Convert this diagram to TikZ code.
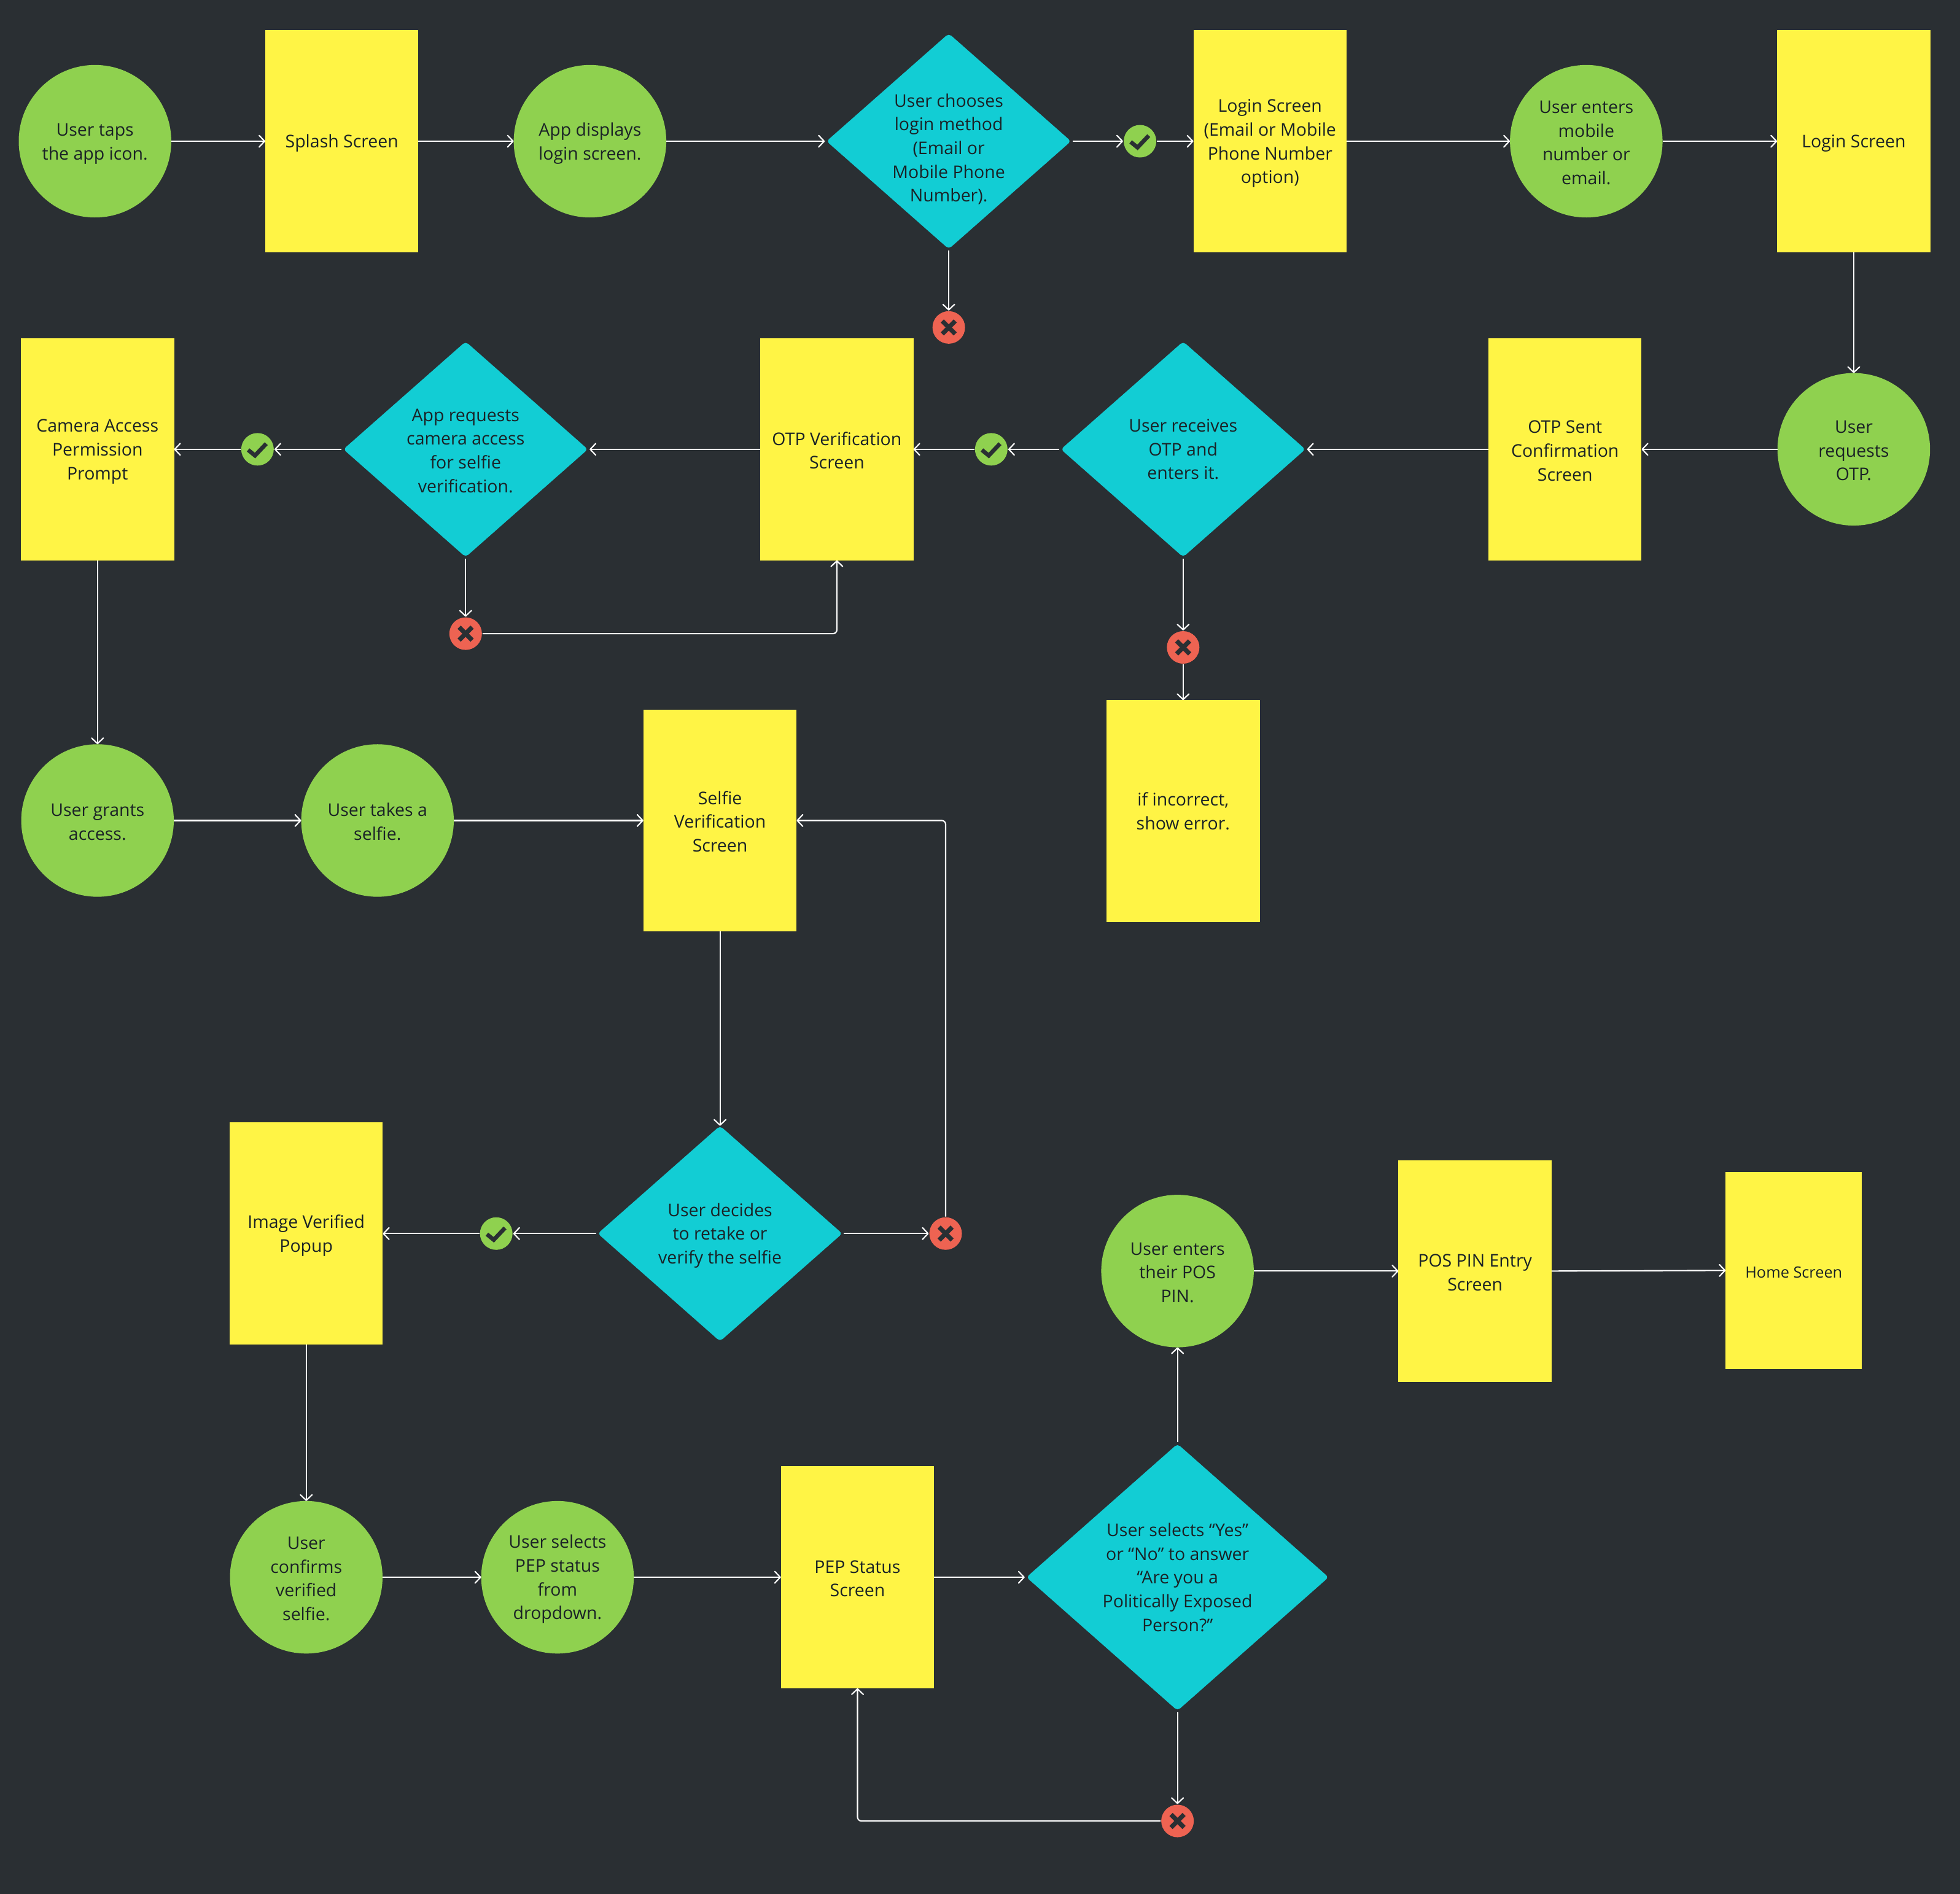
\documentclass[tikz,border=0pt]{standalone}
\usepackage{fontspec}
\setmainfont{Open Sans}
\usetikzlibrary{shapes.geometric,arrows.meta}
\definecolor{bgc}{HTML}{2A2F33}
\definecolor{yel}{HTML}{FFF445}
\definecolor{tealc}{HTML}{12CDD4}
\definecolor{grn}{HTML}{8FD14F}
\definecolor{redc}{HTML}{EE6352}
\definecolor{txt}{HTML}{1A2226}
\newcommand{\stA}{\rule{0pt}{7.2pt}}
\newcommand{\stB}{\rule{0pt}{8pt}}
\tikzset{
  base/.style={inner sep=0pt,outer sep=0pt,align=center,text=txt,font=\fontsize{8.1}{11}\selectfont},
  act/.style={base,circle,fill=grn,minimum size=2.484cm},
  screen/.style={base,rectangle,fill=yel,minimum width=2.494cm,minimum height=3.615cm},
  homescreen/.style={base,rectangle,fill=yel,minimum width=2.219cm,minimum height=3.216cm,font=\fontsize{7.2}{9}\selectfont},
  choice/.style={base,diamond,aspect=1.134,fill=tealc,inner sep=-8pt,minimum width=3.98cm,minimum height=3.51cm,rounded corners=1.6pt},
  bigchoice/.style={base,diamond,aspect=1.132,fill=tealc,inner sep=-4pt,minimum width=4.92cm,minimum height=4.345cm,rounded corners=1.6pt},
  okicon/.style={circle,inner sep=0pt,outer sep=0.3pt,fill=grn,minimum size=0.53cm,
    path picture={\draw[bgc,line width=1.9pt,shift={(path picture bounding box.center)}] (-7.5,0.5)--(-2,5)--(7,-4.5);}},
  noicon/.style={circle,inner sep=0pt,outer sep=0.3pt,fill=redc,minimum size=0.53cm,
    path picture={\draw[bgc,line width=2.1pt,shift={(path picture bounding box.center)}] (-5.2,-5.2)--(5.2,5.2) (-5.2,5.2)--(5.2,-5.2);}},
  arr/.style={draw=white,line width=0.6pt,-{Straight Barb[length=0.9mm,width=1.9mm,line width=0.6pt,round]}},
  fromd/.style={shorten <=0.8pt},
  tod/.style={shorten >=0.8pt},
  loopback/.style={rounded corners=1.8pt},
}
\begin{document}
\begin{tikzpicture}[x=0.020357cm,y=-0.020357cm]
\fill[bgc] (0,0) rectangle (1568,1515.4);
\useasboundingbox (0,0) rectangle (1568,1515.4);
% row 1
\node[act] (c1) at (76,113) {\stB User taps\\the app icon.};
\node[screen] (r1) at (273.5,113) {\stB Splash Screen};
\node[act] (c2) at (472,113) {\stB App displays\\login screen.};
\node[choice] (d1) at (759,113) {\rule{0pt}{13.4pt}User chooses\\login method\\(Email or\\Mobile Phone\\Number).};
\node[okicon] (ok1) at (912,113) {};
\node[noicon] (x1) at (759,262) {};
\node[screen] (r2) at (1016,113) {\stB Login Screen\\(Email or Mobile\\Phone Number\\option)};
\node[act] (c3) at (1269,113) {\stA User enters\\mobile\\number or\\email.};
\node[screen] (r3) at (1483,113) {\stB Login Screen};
% row 2
\node[act] (c4) at (1483,359.5) {\stA User\\requests\\OTP.};
\node[screen] (r4) at (1252,359.5) {\stA OTP Sent\\Confirmation\\Screen};
\node[choice] (d2) at (946.5,359.5) {User receives\\OTP and\\enters it.};
\node[okicon] (ok2) at (793,359.5) {};
\node[screen] (r5) at (669.5,359.5) {\stA OTP Verification\\Screen};
\node[choice] (d3) at (372.5,359.5) {\stA App requests\\camera access\\for selfie\\verification.};
\node[okicon] (ok3) at (206,359.5) {};
\node[screen] (r6) at (78,359.5) {\stB Camera Access\\Permission\\Prompt};
\node[noicon] (x2) at (372.5,507) {};
\node[noicon] (x3) at (946.5,518) {};
\node[screen] (r8) at (946.5,649) {if incorrect,\\show error.};
% row 3
\node[act] (c5) at (78,656.5) {\stA User grants\\access.};
\node[act] (c6) at (302,656.5) {\stA User takes a\\selfie.};
\node[screen] (r7) at (576,656.5) {\stA Selfie\\Verification\\Screen};
% row 4
\node[choice] (d4) at (576,987) {\stB User decides\\to retake or\\verify the selfie};
\node[noicon] (x4) at (756.5,987) {};
\node[okicon] (ok4) at (397,987) {};
\node[screen] (r9) at (245,987) {\stB Image Verified\\Popup};
\node[act] (c7) at (942,1017) {\stA User enters\\their POS\\PIN.};
\node[screen] (r10) at (1180,1017) {\stA POS PIN Entry\\Screen};
\node[homescreen] (r11) at (1435,1016.5) {\stA Home Screen};
% row 5
\node[act] (c8) at (245,1262) {\stA User\\confirms\\verified\\selfie.};
\node[act] (c9) at (446,1262) {\stB User selects\\PEP status\\from\\dropdown.};
\node[screen] (r12) at (686,1262) {\stA PEP Status\\Screen};
\node[bigchoice] (d5) at (942,1262) {User selects “Yes”\\or “No” to answer\\“Are you a\\Politically Exposed\\Person?”};
\node[noicon] (x5) at (942,1457) {};
% connectors
\draw[arr] (c1.east) -- (r1.west);
\draw[arr] (r1.east) -- (c2.west);
\draw[arr,tod] (c2.east) -- (d1.west);
\draw[arr,fromd] (d1.east) -- (ok1.west);
\draw[arr] (ok1.east) -- (r2.west);
\draw[arr,fromd] (d1.south) -- (x1.north);
\draw[arr] (r2.east) -- (c3.west);
\draw[arr] (c3.east) -- (r3.west);
\draw[arr] (r3.south) -- (c4.north);
\draw[arr] (c4.west) -- (r4.east);
\draw[arr,tod] (r4.west) -- (d2.east);
\draw[arr,fromd] (d2.west) -- (ok2.east);
\draw[arr] (ok2.west) -- (r5.east);
\draw[arr,fromd] (d2.south) -- (x3.north);
\draw[arr] (x3.south) -- (r8.north);
\draw[arr,tod] (r5.west) -- (d3.east);
\draw[arr,fromd] (d3.west) -- (ok3.east);
\draw[arr] (ok3.west) -- (r6.east);
\draw[arr,fromd] (d3.south) -- (x2.north);
\draw[arr,loopback] (x2.east) -| (r5.south);
\draw[arr] (r6.south) -- (c5.north);
\draw[arr] (c5.east) -- (c6.west);
\draw[arr] (c6.east) -- (r7.west);
\draw[arr] (r7.south) -- (d4.north);
\draw[arr,fromd] (d4.east) -- (x4.west);
\draw[arr,loopback] (x4.north) |- (r7.east);
\draw[arr,fromd] (d4.west) -- (ok4.east);
\draw[arr] (ok4.west) -- (r9.east);
\draw[arr] (r9.south) -- (c8.north);
\draw[arr] (c8.east) -- (c9.west);
\draw[arr] (c9.east) -- (r12.west);
\draw[arr,tod] (r12.east) -- (d5.west);
\draw[arr,fromd] (d5.north) -- (c7.south);
\draw[arr,fromd] (d5.south) -- (x5.north);
\draw[arr,loopback] (x5.west) -| (r12.south);
\draw[arr] (c7.east) -- (r10.west);
\draw[arr] (r10.east) -- (r11.west);
\end{tikzpicture}
\end{document}
